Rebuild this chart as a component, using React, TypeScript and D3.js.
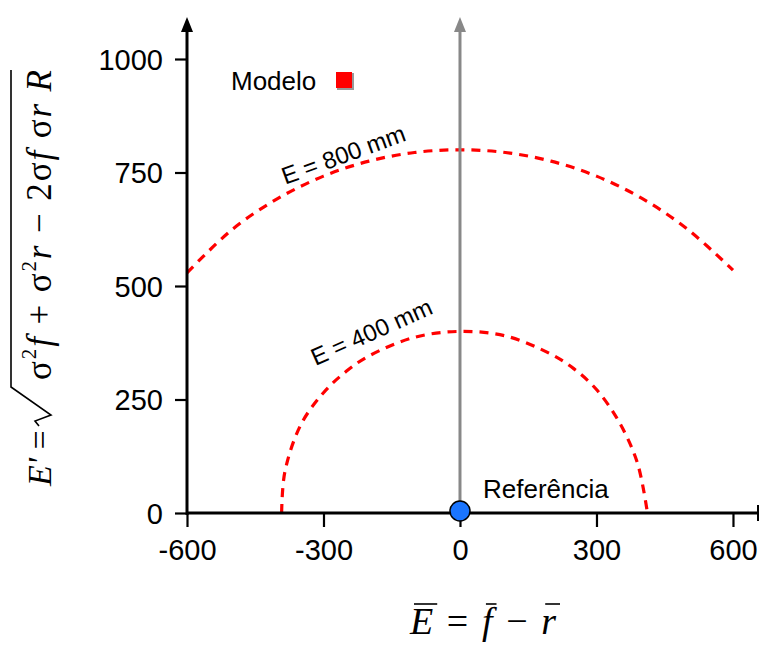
import React, { useEffect, useRef } from "react";
import * as d3 from "d3";

// E' = 800 mm contour
const arc800X = [-600, -500, -400, -300, -200, -100, 0, 100, 200, 300, 400, 500, 600];
const arc800Y = [529, 625, 693, 742, 775, 794, 800, 794, 775, 742, 693, 625, 535];
// E' = 400 mm contour
const arc400X = [-392, -385, -350, -300, -250, -200, -100, 0, 100, 200, 250, 300, 350, 390, 412];
const arc400Y = [0, 90, 194, 265, 312, 346, 387, 400, 390, 350, 318, 272, 200, 110, 0];

const xTicks = [-600, -300, 0, 300, 600];
const yTicks = [0, 250, 500, 750, 1000];

const contourLabels = [
  { text: "E = 800 mm", x: -250, y: 772, angle: -20 },
  { text: "E = 400 mm", x: -187, y: 382, angle: -24 },
];

const referencePoint = { x: 0, y: 0, label: "Referência" };
const legendLabel = "Modelo";

const W = 759, H = 646;

export default function App() {
  const ref = useRef<SVGSVGElement>(null);

  useEffect(() => {
    const svg = d3.select(ref.current);
    svg.selectAll("*").remove();

    const x = d3.scaleLinear().domain([-600, 655]).range([187, 758]);
    const y = d3.scaleLinear().domain([0, 1000]).range([513, 59]);
    const sans = "'Liberation Sans', Arial, sans-serif";
    const serif = "'Liberation Serif', 'Times New Roman', serif";

    // contours
    const line = d3.line<[number, number]>()
      .x(d => x(d[0]))
      .y(d => y(d[1]))
      .curve(d3.curveCatmullRom);
    [[arc800X, arc800Y], [arc400X, arc400Y]].forEach(([xs, ys]) => {
      svg.append("path")
        .datum(xs.map((v, i) => [v, ys[i]] as [number, number]))
        .attr("fill", "none")
        .attr("stroke", "#ff0000")
        .attr("stroke-width", 3.2)
        .attr("stroke-dasharray", "9,7")
        .attr("d", line);
    });

    contourLabels.forEach(l => {
      svg.append("text")
        .attr("transform", `translate(${x(l.x)},${y(l.y)}) rotate(${l.angle})`)
        .attr("text-anchor", "middle")
        .style("font-family", sans)
        .style("font-size", "24px")
        .text(l.text);
    });

    // gray reference arrow
    svg.append("line")
      .attr("x1", x(0)).attr("x2", x(0))
      .attr("y1", y(0)).attr("y2", 30)
      .attr("stroke", "#888").attr("stroke-width", 3);
    svg.append("path")
      .attr("d", `M${x(0) - 6},32 L${x(0)},17 L${x(0) + 6},32 Z`)
      .attr("fill", "#888");

    // x axis
    const xAxis = svg.append("g")
      .attr("transform", `translate(0,${y(0)})`)
      .call(d3.axisBottom(x).tickValues(xTicks).tickSize(14).tickSizeOuter(0).tickFormat(d => String(d)));
    xAxis.select(".domain").remove();
    xAxis.append("line")
      .attr("x1", x(-600)).attr("x2", W + 5)
      .attr("stroke", "#000").attr("stroke-width", 3);
    xAxis.append("line")
      .attr("x1", 758).attr("x2", 758).attr("y1", -8).attr("y2", 8)
      .attr("stroke", "#000").attr("stroke-width", 2);
    xAxis.selectAll(".tick line").attr("stroke-width", 2.2);
    xAxis.selectAll(".tick text")
      .attr("y", 26)
      .attr("dy", "0.71em")
      .style("font-family", sans)
      .style("font-size", "29px")
      .style("fill", "#000");

    // y axis
    const yAxis = svg.append("g")
      .attr("transform", `translate(${x(-600)},0)`)
      .call(d3.axisLeft(y).tickValues(yTicks).tickSize(12).tickSizeOuter(0).tickFormat(d => String(d)));
    yAxis.select(".domain").remove();
    yAxis.append("line")
      .attr("y1", y(0) + 2).attr("y2", 30)
      .attr("stroke", "#000").attr("stroke-width", 3);
    yAxis.append("path")
      .attr("d", "M-6,32 L0,17 L6,32 Z")
      .attr("fill", "#000");
    yAxis.selectAll(".tick line").attr("stroke-width", 2.2);
    yAxis.selectAll(".tick text")
      .attr("x", -24)
      .attr("dy", "0.36em")
      .style("font-family", sans)
      .style("font-size", "29px")
      .style("fill", "#000");

    // reference point
    svg.append("circle")
      .attr("cx", x(referencePoint.x)).attr("cy", y(referencePoint.y) - 2)
      .attr("r", 10)
      .attr("fill", "#1a75ff")
      .attr("stroke", "#000").attr("stroke-width", 1.5);
    svg.append("text")
      .attr("x", x(referencePoint.x) + 23).attr("y", 498)
      .style("font-family", sans).style("font-size", "26px")
      .text(referencePoint.label);

    // legend
    svg.append("text")
      .attr("x", 231).attr("y", 90)
      .style("font-family", sans).style("font-size", "26px")
      .text(legendLabel);
    svg.append("rect")
      .attr("x", 337).attr("y", 73).attr("width", 17).attr("height", 17)
      .attr("fill", "#999");
    svg.append("rect")
      .attr("x", 336).attr("y", 72).attr("width", 16).attr("height", 16)
      .attr("fill", "#ff0000");

    // x axis title: E¯ = f¯ − r¯
    const xt = svg.append("text")
      .attr("x", 410).attr("y", 634)
      .attr("textLength", 146)
      .attr("lengthAdjust", "spacing")
      .style("font-family", serif).style("font-size", "38px");
    const parts: [string, boolean][] = [["E", true], [" = ", false], ["f", true], [" \u2212 ", false], ["r", true]];
    parts.forEach(([t, it]) => {
      xt.append("tspan").style("font-style", it ? "italic" : "normal").text(t);
    });
    const spans = xt.selectAll<SVGTSpanElement, unknown>("tspan").nodes();
    [0, 2, 4].forEach(i => {
      const n = spans[i];
      const s = n.getStartPositionOfChar(0).x;
      const e = n.getEndPositionOfChar(n.getNumberOfChars() - 1).x;
      svg.append("line")
        .attr("x1", s + 4).attr("x2", e + 4)
        .attr("y1", 604).attr("y2", 604)
        .attr("stroke", "#000").attr("stroke-width", 1.6);
    });

    // y axis title: E' = sqrt(σ²f + σ²r − 2σfσrR)
    const g = svg.append("g").attr("transform", "translate(51,0) rotate(-90)");
    g.append("text")
      .attr("x", -486).attr("y", 0)
      .style("font-family", serif).style("font-size", "34px")
      .call(t => {
        t.append("tspan").style("font-style", "italic").text("E'");
        t.append("tspan").text(" =");
      });
    g.append("path")
      .attr("d", "M-426,-12 L-421,-16 L-415,0 L-387,-40 L-70,-40")
      .attr("fill", "none").attr("stroke", "#000").attr("stroke-width", 1.6);
    const body = g.append("text")
      .attr("x", -380).attr("y", 0)
      .attr("textLength", 310)
      .style("font-family", serif).style("font-size", "35px");
    const seq: [string, string][] = [
      ["\u03c3", "n"], ["2", "sup"], ["f", "i"], [" + ", "n"],
      ["\u03c3", "n"], ["2", "sup"], ["r", "i"], [" \u2212 2", "n"],
      ["\u03c3", "n"], ["f", "i"], [" \u03c3", "n"], ["r", "i"], [" R", "i"],
    ];
    let raised = false;
    seq.forEach(([t, k]) => {
      const sp = body.append("tspan").text(t);
      if (k === "i") sp.style("font-style", "italic");
      if (k === "sup") { sp.attr("dy", -15).style("font-size", "21px"); raised = true; }
      else if (raised) { sp.attr("dy", 15); raised = false; }
    });
  }, []);

  return (
    <svg ref={ref} width={W} height={H}
      style={{ position: "absolute", left: 0, top: 0, background: "#fff" }} />
  );
}
